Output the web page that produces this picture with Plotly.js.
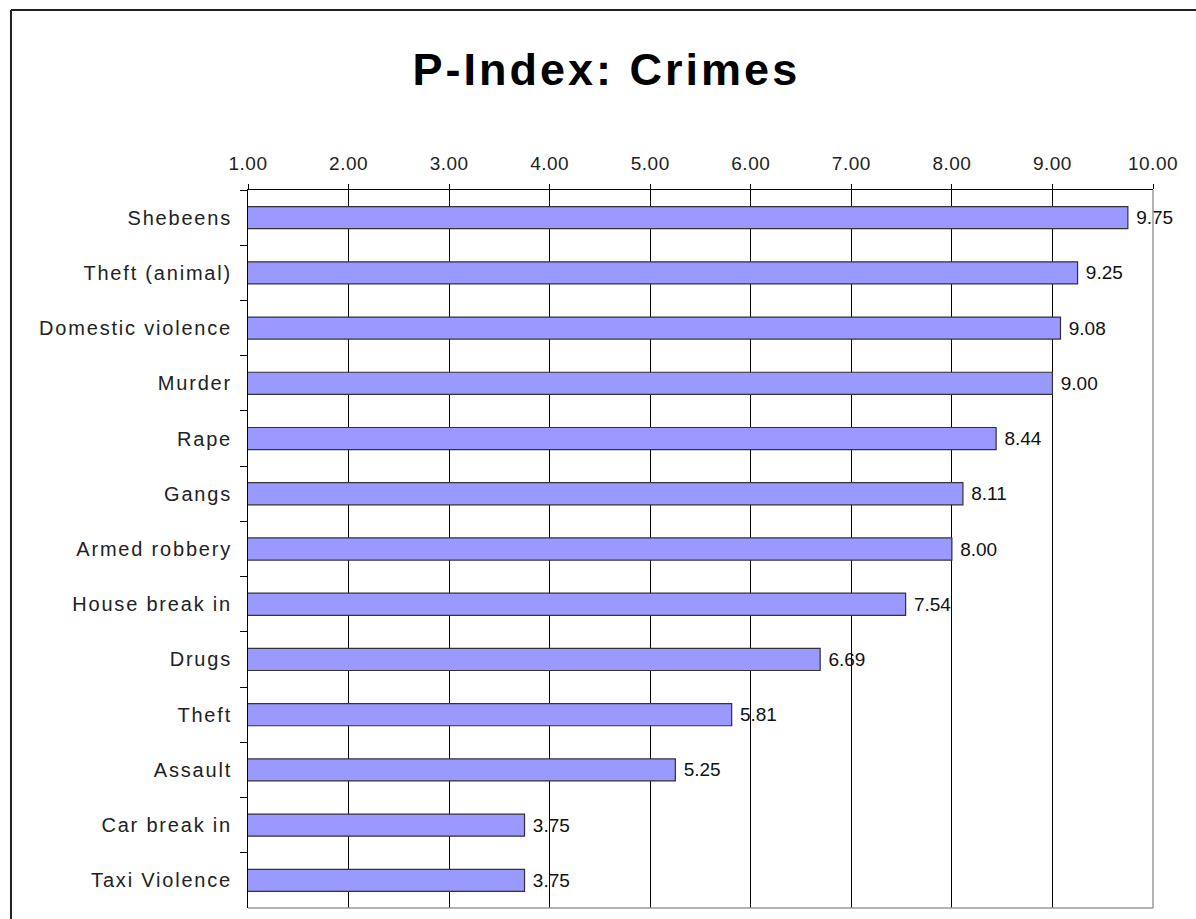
<!DOCTYPE html>
<html>
<head>
<meta charset="utf-8">
<script src="https://cdn.plot.ly/plotly-3.0.1.min.js"></script>
<style>
html,body{margin:0;padding:0;background:#fff;}
#chart{width:1196px;height:919px;}
#chart .gtitle{letter-spacing:3px;}
#chart .ytick text{letter-spacing:1.8px;}
#chart .xtick text{letter-spacing:0.5px;}
</style>
</head>
<body>
<div id="chart"></div>
<script>
const categories = ["Shebeens","Theft (animal)","Domestic violence","Murder","Rape","Gangs","Armed robbery","House break in","Drugs","Theft","Assault","Car break in","Taxi Violence"];
const values = [9.75, 9.25, 9.08, 9.00, 8.44, 8.11, 8.00, 7.54, 6.69, 5.81, 5.25, 3.75, 3.75];
const tickValues = [1,2,3,4,5,6,7,8,9,10];

const font = "Liberation Sans, Arial, sans-serif";

const trace = {
  type: 'bar',
  orientation: 'h',
  x: values,
  y: categories,
  marker: {color: '#9999FF', line: {color: '#333333', width: 1.2}},
  text: values.map(v => '\u00A0' + v.toFixed(2)),
  textposition: 'outside',
  textfont: {family: font, size: 19, color: '#111'},
  cliponaxis: false,
  hoverinfo: 'x+y'
};

const layout = {
  width: 1196, height: 919,
  paper_bgcolor: '#fff', plot_bgcolor: '#fff',
  margin: {l: 248, r: 43, t: 190, b: 11, pad: 0},
  showlegend: false,
  bargap: 0.6,
  title: {text: '<b>P-Index: Crimes</b>', font: {family: font, size: 45, color: '#000'}, x: 0.507, xref: 'container', xanchor: 'center', y: 0.925, yanchor: 'middle'},
  xaxis: {
    side: 'top', range: [1, 10], tickvals: tickValues, ticktext: tickValues.map(v => v.toFixed(2)),
    showgrid: true, gridcolor: '#000', gridwidth: 1,
    showline: true, linecolor: '#000', linewidth: 1,
    ticks: 'outside', ticklen: 5, tickcolor: '#000',
    tickfont: {family: font, size: 19, color: '#222'},
    ticklabelstandoff: 6,
    zeroline: false, fixedrange: true
  },
  yaxis: {
    type: 'category', autorange: 'reversed',
    showline: true, linecolor: '#000', linewidth: 1,
    ticks: 'outside', tickson: 'boundaries', ticklen: 7, tickcolor: '#000',
    tickfont: {family: font, size: 20, color: '#222'},
    ticklabelstandoff: 11,
    showgrid: false, zeroline: false, fixedrange: true
  },
  shapes: [
    {type: 'line', xref: 'paper', yref: 'paper', x0: 1, x1: 1, y0: 0, y1: 1, line: {color: '#999', width: 1.5}},
    {type: 'line', xref: 'paper', yref: 'paper', x0: 0, x1: 1, y0: 0, y1: 0, line: {color: '#999', width: 1.5}},
    {type: 'line', xref: 'paper', yref: 'paper', x0: -0.2619, x1: 1.2, y0: 1.2507, y1: 1.2507, line: {color: '#222', width: 2}},
    {type: 'line', xref: 'paper', yref: 'paper', x0: -0.2619, x1: -0.2619, y0: 1.2507, y1: -0.1, line: {color: '#222', width: 2}}
  ]
};

Plotly.newPlot('chart', [trace], layout, {displayModeBar: false, staticPlot: true});
</script>
</body>
</html>
